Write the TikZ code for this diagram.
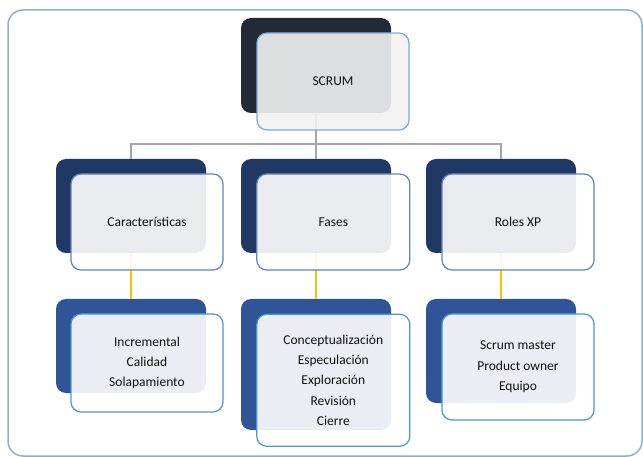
\documentclass[tikz,border=0pt]{standalone}
\usepackage{fontspec}
\setmainfont{Carlito}
\definecolor{framec}{HTML}{8FAED0}
\definecolor{topdark}{HTML}{222A36}
\definecolor{topedge}{HTML}{78AADC}
\definecolor{midDark}{HTML}{1F3864}
\definecolor{midEdge}{HTML}{6282BC}
\definecolor{lowDark}{HTML}{2F5597}
\definecolor{lowEdge}{HTML}{4C93D6}
\definecolor{grayln}{HTML}{A6A6A6}
\definecolor{goldln}{HTML}{FFC000}
\definecolor{txt}{HTML}{111111}
\tikzset{
  backbox/.style={rectangle, rounded corners=10pt, inner sep=0pt, draw=none},
  frontbox/.style={rectangle, rounded corners=10pt, inner sep=0pt, line width=1.2pt,
    fill opacity=0.9, text opacity=1, align=center, text=txt,
    font=\fontsize{13.5}{20.4}\selectfont},
  grayconn/.style={draw=grayln, line width=1.4pt},
  goldconn/.style={draw=goldln, line width=2pt},
}
\begin{document}
\begin{tikzpicture}[x=1pt,y=-1pt]
\useasboundingbox (0,0) rectangle (643,457);
\draw[framec, line width=1.5pt, rounded corners=15pt] (8,10) rectangle (642,456);
% back boxes
\node[backbox, fill=topdark, minimum width=150pt, minimum height=95pt] (s0) at (316,65.5) {};
\node[backbox, fill=midDark, minimum width=150pt, minimum height=94pt] (c1) at (131,206) {};
\node[backbox, fill=midDark, minimum width=150pt, minimum height=94pt] (c2) at (316,206) {};
\node[backbox, fill=midDark, minimum width=150pt, minimum height=94pt] (c3) at (501,206) {};
\node[backbox, fill=lowDark, minimum width=150pt, minimum height=94pt] (d1) at (131,346) {};
\node[backbox, fill=lowDark, minimum width=150pt, minimum height=131pt] (d2) at (316,364.5) {};
\node[backbox, fill=lowDark, minimum width=150pt, minimum height=104pt] (d3) at (501,351) {};
% connectors
\draw[grayconn] (s0.south) -- ++(0,31) coordinate (j);
\draw[grayconn] (j) -| (c1.north);
\draw[grayconn] (j) -| (c3.north);
\draw[grayconn] (j) -- (c2.north);
\draw[goldconn] (c1.south) -- (d1.north);
\draw[goldconn] (c2.south) -- (d2.north);
\draw[goldconn] (c3.south) -- (d3.north);
% front boxes
\node[frontbox, fill=gray!10, draw=topedge, minimum width=152pt, minimum height=97pt] (s0f) at (333,81.5) {SCRUM};
\node[frontbox, fill=white, draw=midEdge, minimum width=152pt, minimum height=96pt] (c1f) at (147,222) {Características};
\node[frontbox, fill=white, draw=midEdge, minimum width=153pt, minimum height=96pt] (c2f) at (333.3,222) {Fases};
\node[frontbox, fill=white, draw=midEdge, minimum width=152pt, minimum height=96pt] (c3f) at (518,222) {Roles XP};
\node[frontbox, fill=white, draw=lowEdge, minimum width=152pt, minimum height=98pt] (d1f) at (147,363) {Incremental\\Calidad\\Solapamiento};
\node[frontbox, fill=white, draw=lowEdge, minimum width=153pt, minimum height=132pt] (d2f) at (333.3,380.3) {Conceptualización\\Especulación\\Exploración\\Revisión\\Cierre};
\node[frontbox, fill=white, draw=lowEdge, minimum width=152pt, minimum height=106pt] (d3f) at (518,367) {Scrum master\\Product owner\\Equipo};
\end{tikzpicture}
\end{document}
